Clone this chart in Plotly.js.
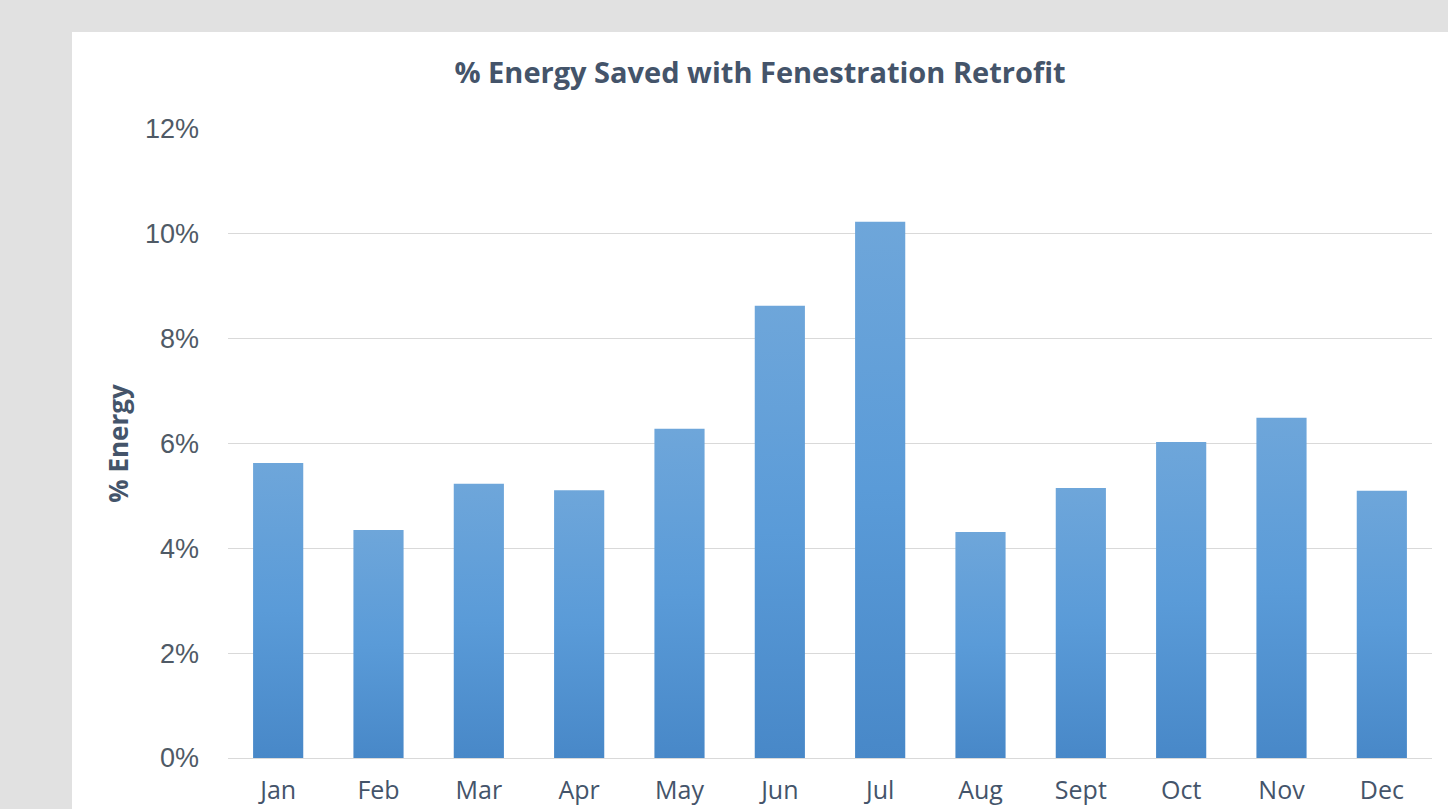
<!DOCTYPE html>
<html>
<head>
<meta charset="utf-8">
<script src="https://cdn.plot.ly/plotly-3.0.1.min.js"></script>
<style>
  html, body { margin: 0; padding: 0; width: 1448px; height: 809px; overflow: hidden; background: #e1e1e1; }
  #chart { position: absolute; left: 72px; top: 32px; width: 1376px; height: 777px; background: #ffffff; }
</style>
</head>
<body>
<div id="chart"></div>
<script>
const months = ["Jan", "Feb", "Mar", "Apr", "May", "Jun", "Jul", "Aug", "Sept", "Oct", "Nov", "Dec"];
const energySaved = [0.0563, 0.0435, 0.0523, 0.0511, 0.0628, 0.0863, 0.1023, 0.0431, 0.0515, 0.0603, 0.0649, 0.0510];
const yTickValues = [0, 0.02, 0.04, 0.06, 0.08, 0.10, 0.12];

const trace = {
  type: "bar",
  x: months,
  y: energySaved,
  marker: { color: "#5b9bd5", line: { width: 0 } },
  hoverinfo: "x+y"
};

const layout = {
  width: 1376,
  height: 777,
  paper_bgcolor: "#ffffff",
  plot_bgcolor: "#ffffff",
  margin: { l: 156, r: 16, t: 97, b: 51 },
  bargap: 0.5,
  showlegend: false,
  title: {
    text: "<b>% Energy Saved with Fenestration Retrofit</b>",
    font: { family: "Open Sans, sans-serif", size: 29, color: "#44546a" },
    x: 0.5, xanchor: "center", xref: "container",
    y: 1 - (73 - 32) / 777, yanchor: "middle", yref: "container"
  },
  xaxis: {
    type: "category",
    showgrid: false,
    showline: false,
    zeroline: false,
    ticks: "",
    tickfont: { family: "Open Sans, sans-serif", size: 25, color: "#44546a" },
    ticklabelstandoff: 15,
    automargin: false
  },
  yaxis: {
    range: [0, 0.12],
    tickvals: yTickValues,
    tickformat: ".0%",
    showgrid: true,
    gridcolor: "#d9d9d9",
    gridwidth: 1,
    zeroline: true,
    zerolinecolor: "#d9d9d9",
    zerolinewidth: 1,
    showline: false,
    ticks: "",
    ticklabelstandoff: 28,
    tickfont: { family: "Liberation Sans, Arial, sans-serif", size: 27, color: "#4f5a66" },
    automargin: false,
    title: {
      text: "<b>% Energy</b>",
      font: { family: "Open Sans, sans-serif", size: 26, color: "#44546a" },
      standoff: 8
    }
  }
};

Plotly.newPlot("chart", [trace], layout, { displayModeBar: false, staticPlot: true }).then(function (gd) {
  // vertical colour gradient on the bars, as in the reference
  const svg = gd.querySelector("svg.main-svg");
  const ns = "http://www.w3.org/2000/svg";
  let defs = svg.querySelector("defs");
  if (!defs) { defs = document.createElementNS(ns, "defs"); svg.insertBefore(defs, svg.firstChild); }
  const grad = document.createElementNS(ns, "linearGradient");
  grad.setAttribute("id", "barGrad");
  grad.setAttribute("x1", "0"); grad.setAttribute("y1", "0");
  grad.setAttribute("x2", "0"); grad.setAttribute("y2", "1");
  const stops = [["0%", "#6ea6da"], ["50%", "#5a9bd8"], ["100%", "#4888c8"]];
  stops.forEach(function (s) {
    const st = document.createElementNS(ns, "stop");
    st.setAttribute("offset", s[0]);
    st.setAttribute("stop-color", s[1]);
    grad.appendChild(st);
  });
  defs.appendChild(grad);
  gd.querySelectorAll(".bars .point path").forEach(function (p) {
    p.style.fill = "url(#barGrad)";
  });
});
</script>
</body>
</html>
